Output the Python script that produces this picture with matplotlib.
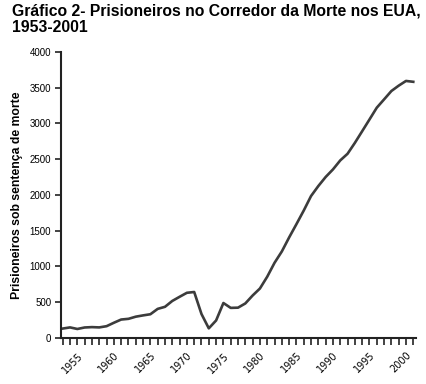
import matplotlib
matplotlib.use("Agg")
import matplotlib.pyplot as plt

# Dados: prisioneiros no corredor da morte, EUA
anos = list(range(1953, 2002))
presos = [131, 147, 125, 146, 151, 147, 164, 212, 257, 267,
          297, 315, 331, 406, 435, 517, 575, 631, 642, 334,
          134, 244, 488, 420, 423, 482, 593, 691, 856, 1050,
          1209, 1405, 1591, 1781, 1984, 2124, 2250, 2356, 2482, 2575,
          2727, 2890, 3054, 3219, 3335, 3452, 3527, 3593, 3581]
anos_rotulo = [1955, 1960, 1965, 1970, 1975, 1980, 1985, 1990, 1995, 2000]
y_ticks = [0, 500, 1000, 1500, 2000, 2500, 3000, 3500, 4000]

plt.rcParams['font.family'] = ['Liberation Sans', 'DejaVu Sans']

fig = plt.figure(figsize=(4.26, 3.84), dpi=100)
ax = fig.add_axes([0.143, 0.120, 0.834, 0.745])

ax.plot(anos, presos, color="#3c3c3c", linewidth=1.9)

ax.set_xlim(1952.75, 2001.4)
ax.set_ylim(0, 4000)
ax.set_yticks(y_ticks)
ax.set_yticklabels([str(v) for v in y_ticks], fontsize=7)
ax.set_xticks(anos)
ax.set_xticklabels([str(a) if a in anos_rotulo else "" for a in anos],
                   rotation=45, ha="right", rotation_mode="anchor",
                   fontsize=7, family=["DejaVu Sans"])
ax.tick_params(axis="both", direction="out", length=4, width=1.2, color="#222222", pad=3)
ax.tick_params(axis="x", length=5, pad=4)

for s in ["top", "right"]:
    ax.spines[s].set_visible(False)
for s in ["left", "bottom"]:
    ax.spines[s].set_linewidth(1.5)
    ax.spines[s].set_color("#222222")

ax.set_ylabel("Prisioneiros sob sentença de morte", fontsize=8.8, fontweight="bold", labelpad=5)

fig.text(0.028, 0.99, "Gráfico 2- Prisioneiros no Corredor da Morte nos EUA,\n1953-2001",
         fontsize=11.3, fontweight="bold", va="top", ha="left", linespacing=1.1)

fig.savefig("out.png", dpi=100)
